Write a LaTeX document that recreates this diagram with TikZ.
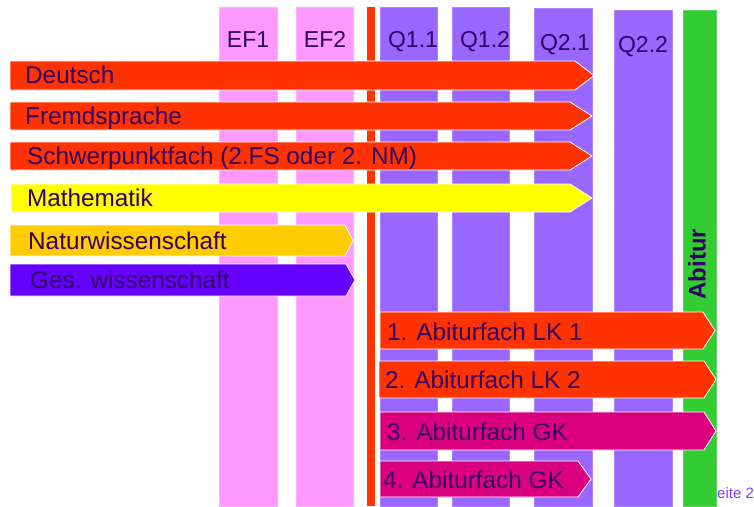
\documentclass[tikz,border=0pt]{standalone}
\usepackage{fontspec}
\setmainfont{Liberation Sans}
\definecolor{pinkcol}{HTML}{FF99FF}
\definecolor{purplecol}{HTML}{9966FF}
\definecolor{redbar}{HTML}{FF3300}
\definecolor{yellowbar}{HTML}{FFFF00}
\definecolor{orangebar}{HTML}{FFCC00}
\definecolor{violetbar}{HTML}{6600FF}
\definecolor{magentabar}{HTML}{DB007F}
\definecolor{greenbar}{HTML}{33CC33}
\definecolor{textcol}{HTML}{330066}
\definecolor{pagecol}{HTML}{7F3FFF}
\tikzset{
  colbox/.style={draw=#1!80!white, line width=0.6pt, fill=#1},
  barshape/.style={fill=#1, draw=white, line width=0.8pt, line join=miter},
  lbl/.style={anchor=base west, inner sep=0pt, text=textcol, font=\fontsize{24.3}{28}\selectfont},
  collbl/.style={anchor=base, inner sep=0pt, text=textcol, font=\fontsize{23}{28}\selectfont},
}
\begin{document}
\begin{tikzpicture}[x=1pt,y=-1pt]
\useasboundingbox (0,0) rectangle (754,506);
\clip (0,0) rectangle (754,506);
% columns
\fill[colbox=pinkcol] (219,7) rectangle (277,506);
\fill[colbox=pinkcol] (296,7) rectangle (353,506);
\fill[redbar] (367,7) rectangle (375,506);
\fill[colbox=purplecol] (380,7) rectangle (437,506);
\fill[colbox=purplecol] (452,7) rectangle (509,506);
\fill[colbox=purplecol] (534,8) rectangle (592,506);
\fill[colbox=purplecol] (614,10) rectangle (672,506);
\node[text=pagecol, anchor=base west, inner sep=0pt, font=\fontsize{15}{17}\selectfont] (seite) at (707,498) {Seite 21};
\fill[colbox=greenbar] (683,10) rectangle (716,506);
% column labels
\node[collbl] (ef1) at (248,47) {EF1};
\node[collbl] (ef2) at (325,47) {EF2};
\node[collbl] (q11) at (413,47) {Q1.1};
\node[collbl] (q12) at (485,47) {Q1.2};
\node[collbl] (q21) at (565,50) {Q2.1};
\node[collbl] (q22) at (643,52) {Q2.2};
\node[rotate=90, inner sep=0pt, text=textcol, font=\fontsize{24}{28}\selectfont\bfseries] (abitur) at (697,264) {Abitur};
% bars
\path[barshape=redbar] (10,61) -- (575,61) -- (594,75.5) -- (575,90) -- (10,90) -- cycle;
\node[lbl] (deutsch) at (25,83) {Deutsch};
\path[barshape=redbar] (10,102) -- (570,102) -- (592,116) -- (570,130) -- (10,130) -- cycle;
\node[lbl] (fremd) at (25,124) {Fremdsprache};
\path[barshape=redbar] (10,142) -- (570,142) -- (592,156) -- (570,170) -- (10,170) -- cycle;
\node[lbl] (schwer) at (27,164) {Schwerpunktfach (2.FS oder 2. NM)};
\path[barshape=yellowbar] (11,184) -- (570,184) -- (592,198) -- (570,212) -- (11,212) -- cycle;
\node[lbl] (mathe) at (27,206) {Mathematik};
\path[barshape=orangebar] (10,225) -- (345,225) -- (353,240.5) -- (345,256) -- (10,256) -- cycle;
\node[lbl] (natur) at (28,249) {Naturwissenschaft};
\path[barshape=violetbar] (10,264) -- (346,264) -- (355,280) -- (346,296) -- (10,296) -- cycle;
\node[lbl] (ges) at (30,288) {Ges. wissenschaft};
\path[barshape=redbar] (380,312) -- (703,312) -- (715,330.5) -- (703,349) -- (380,349) -- cycle;
\node[lbl] (lk1) at (387,340) {1. Abiturfach LK 1};
\path[barshape=redbar] (379,361) -- (704,361) -- (716,379.5) -- (704,398) -- (379,398) -- cycle;
\node[lbl] (lk2) at (385,388) {2. Abiturfach LK 2};
\path[barshape=magentabar] (380,412) -- (704,412) -- (716,431) -- (704,450) -- (380,450) -- cycle;
\node[lbl] (gk3) at (387,440) {3. Abiturfach GK};
\path[barshape=magentabar] (380,461) -- (578,461) -- (591,479) -- (578,497) -- (380,497) -- cycle;
\node[lbl] (gk4) at (383,488) {4. Abiturfach GK};
\end{tikzpicture}
\end{document}
